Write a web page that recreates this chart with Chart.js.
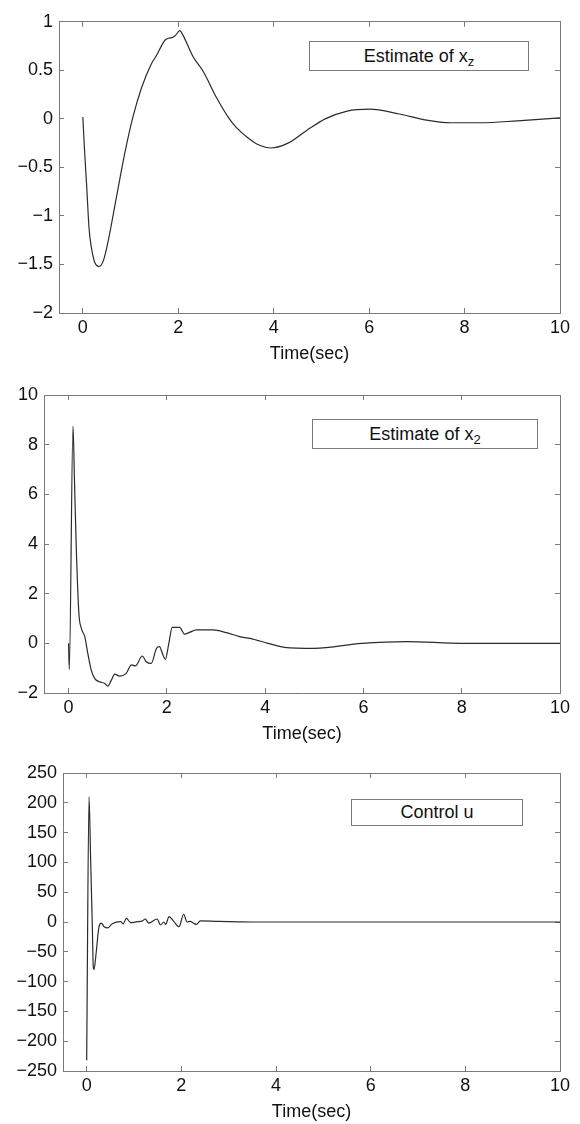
<!DOCTYPE html>
<html>
<head>
<meta charset="utf-8">
<script src="https://cdn.jsdelivr.net/npm/chart.js@4.4.1/dist/chart.umd.min.js"></script>
<style>
  html, body { margin: 0; padding: 0; background: #fff; }
  body { width: 580px; height: 1124px; position: relative; overflow: hidden;
         font-family: 'Liberation Sans', Arial, Helvetica, sans-serif; }
  .panel { position: absolute; left: 0; }
  .legend-box {
    position: absolute; box-sizing: border-box; background: #fff;
    border: 1px solid #7a7a7a; color: #111; font-size: 18px;
    text-align: center; white-space: nowrap;
  }
  .legend-box sub { font-size: 13px; vertical-align: -4px; line-height: 0; }
</style>
</head>
<body>

<div class="panel" style="top:0"><canvas id="chart-xz" width="580" height="370"></canvas></div>
<div class="panel" style="top:370px"><canvas id="chart-x2" width="580" height="380"></canvas></div>
<div class="panel" style="top:750px"><canvas id="chart-u" width="580" height="374"></canvas></div>

<div class="legend-box" style="left:309px;top:41px;width:220px;height:30px;line-height:28px;">Estimate of x<sub>z</sub></div>
<div class="legend-box" style="left:312px;top:419px;width:226px;height:30px;line-height:28px;">Estimate of x<sub>2</sub></div>
<div class="legend-box" style="left:351px;top:799px;width:172px;height:27px;line-height:25px;">Control u</div>

<script>
/* ===== DATA ===== */

const timeTicks = [0, 2, 4, 6, 8, 10];

// Estimate of x_z
const xzTime = [0, 0.03, 0.08, 0.13, 0.18, 0.25, 0.34, 0.43, 0.53, 0.71, 0.88, 1.05, 1.23, 1.44, 1.54,
                1.72, 1.79, 1.89, 1.95, 2.03, 2.1, 2.31, 2.52, 2.8, 3.07, 3.22, 3.47, 3.69, 3.94, 4.3,
                4.69, 5.08, 5.54, 6.01, 6.63, 7.17, 7.71, 8.33, 9.11, 10];
const xzValue = [0.02, -0.28, -0.69, -1.13, -1.33, -1.48, -1.52, -1.46, -1.26, -0.79, -0.35, 0.02, 0.32, 0.57, 0.65,
                 0.81, 0.83, 0.84, 0.865, 0.91, 0.86, 0.64, 0.49, 0.22, 0.0, -0.09, -0.2, -0.27, -0.3, -0.25,
                 -0.12, 0.0, 0.08, 0.1, 0.05, -0.01, -0.04, -0.04, -0.02, 0.01];
const xzTicks = [-2, -1.5, -1, -0.5, 0, 0.5, 1];

// Estimate of x_2
const x2Time = [0, 0.015, 0.09, 0.12, 0.156, 0.21, 0.26, 0.33, 0.39, 0.46, 0.53, 0.63, 0.73, 0.8, 0.87,
                0.94, 1.04, 1.17, 1.28, 1.36, 1.5, 1.58, 1.68, 1.79, 1.85, 1.92, 1.97, 2.04, 2.11, 2.26,
                2.36, 2.46, 2.6, 2.94, 3.21, 3.48, 3.69, 4.06, 4.39, 5.0, 5.97, 6.88, 8.0, 10];
const x2Value = [0, -1.05, 8.75, 6.58, 3.89, 1.21, 0.6, 0.27, -0.39, -1.07, -1.41, -1.55, -1.61, -1.72, -1.48,
                 -1.24, -1.32, -1.21, -0.87, -0.91, -0.51, -0.74, -0.81, -0.2, -0.13, -0.47, -0.65, 0, 0.64, 0.64,
                 0.37, 0.44, 0.54, 0.54, 0.43, 0.27, 0.2, 0, -0.16, -0.2, 0, 0.07, 0, 0];
const x2Ticks = [-2, 0, 2, 4, 6, 8, 10];

// Control u
const uTime = [0, 0.05, 0.084, 0.12, 0.14, 0.155, 0.2, 0.26, 0.31, 0.37, 0.44, 0.54, 0.72, 0.77, 0.84,
               0.93, 1.07, 1.17, 1.24, 1.31, 1.49, 1.56, 1.63, 1.67, 1.74, 1.84, 1.95, 2.05, 2.12, 2.19,
               2.26, 2.32, 2.4, 2.77, 3.5, 4.5, 6, 10];
const uValue = [-232, 210, 104, -9.5, -76, -80, -52, -8, -2, -8, -10, -3, 0.5, -3, 6,
                -1, 0.5, 1.5, 5, -2, 5, -5, 0, -4, 9, 1, -8, 13, 0, 1,
                -2, -4, 2, 1, 0, 0, 0, 0];
const uTicks = [-250, -200, -150, -100, -50, 0, 50, 100, 150, 200, 250];

/* ===== CHARTS ===== */

const FONT      = "'Liberation Sans', Arial, Helvetica, sans-serif";
const AXIS_GRAY = '#7a7a7a';
const TEXT      = '#111';

Chart.defaults.font.family = FONT;

const fmtTick = v => (v < 0 ? '\u2212' + Math.abs(v) : String(v));
const fixTicks = list => scale => { scale.ticks = list.map(v => ({ value: v })); };

function axisBase(list, min, max, position) {
  return {
    type: 'linear',
    position,
    min, max,
    afterBuildTicks: fixTicks(list),
    grid:   { drawOnChartArea: false, drawTicks: true, tickLength: -5, color: AXIS_GRAY, lineWidth: 1 },
    border: { display: true, color: AXIS_GRAY, width: 1 },
  };
}

function makePlot(id, times, values, yTicks, yLeft, padTop, padBottom) {
  const yMin = yTicks[0];
  const yMax = yTicks[yTicks.length - 1];

  return new Chart(document.getElementById(id), {
    type: 'line',
    data: {
      datasets: [{
        data: times.map((t, i) => ({ x: t, y: values[i] })),
        borderColor: '#2b2b2b',
        borderWidth: 1.2,
        pointRadius: 0,
        cubicInterpolationMode: 'monotone',
        fill: false,
      }],
    },
    options: {
      responsive: false,
      animation: false,
      layout: { padding: { left: 0, right: 20, top: padTop, bottom: padBottom } },
      plugins: { legend: { display: false }, tooltip: { enabled: false } },
      scales: {
        x: {
          ...axisBase(timeTicks, -0.5, 10, 'bottom'),
          ticks: { color: TEXT, font: { size: 18 }, padding: 9, maxRotation: 0, callback: fmtTick },
          title: { display: true, text: 'Time(sec)', color: TEXT, font: { size: 18 }, padding: 0 },
          afterFit: s => { s.height = 52; },
        },
        xTop: {
          ...axisBase(timeTicks, -0.5, 10, 'top'),
          ticks: { display: false },
          afterFit: s => { s.height = 0; },
        },
        y: {
          ...axisBase(yTicks, yMin, yMax, 'left'),
          ticks: { color: TEXT, font: { size: 18 }, padding: 11, callback: fmtTick },
          afterFit: s => { s.width = yLeft; },
        },
        yRight: {
          ...axisBase(yTicks, yMin, yMax, 'right'),
          ticks: { display: false },
          afterFit: s => { s.width = 0; },
        },
      },
    },
  });
}

makePlot('chart-xz', xzTime, xzValue, xzTicks, 59, 16, 5);
makePlot('chart-x2', x2Time, x2Value, x2Ticks, 44, 25, 5);
makePlot('chart-u',  uTime,  uValue,  uTicks,  63, 23, 1);
</script>
</body>
</html>
